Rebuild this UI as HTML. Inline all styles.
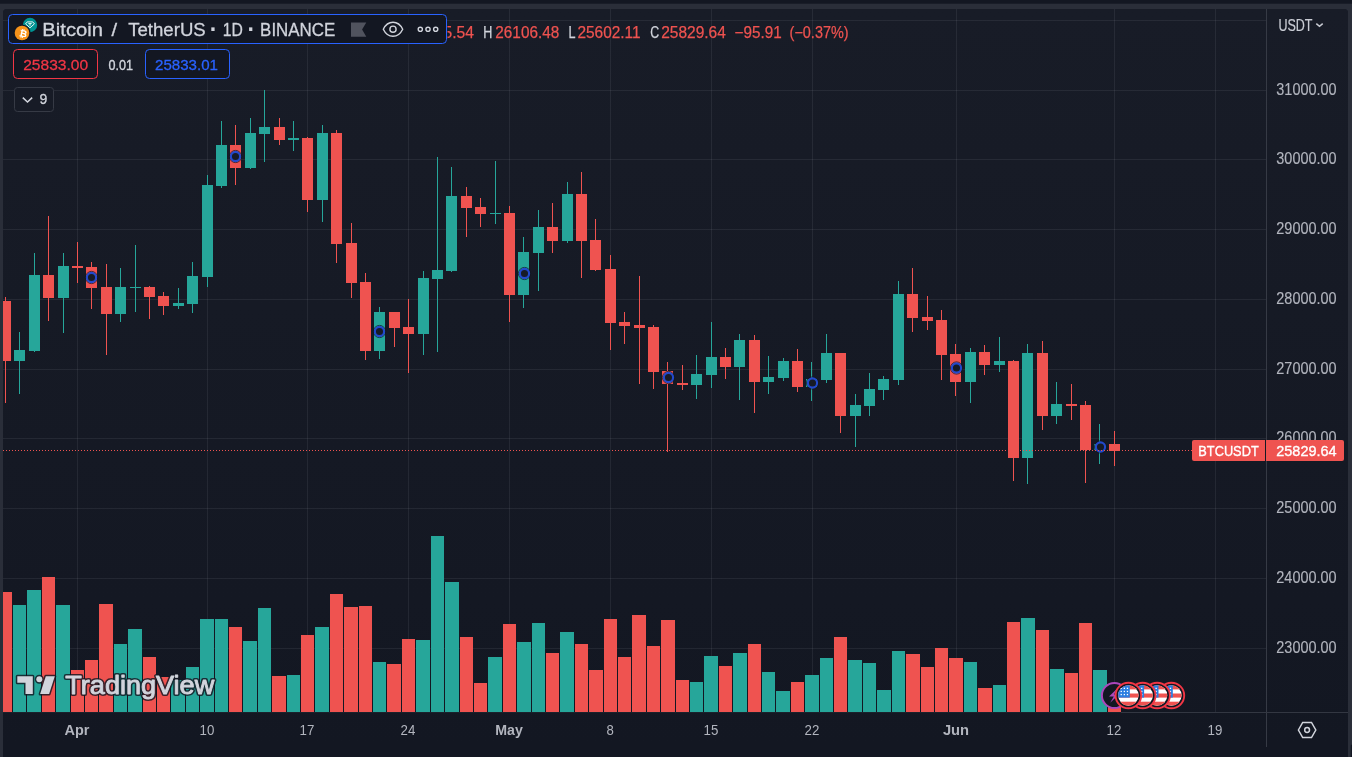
<!DOCTYPE html>
<html lang="en"><head><meta charset="utf-8"><title>BTCUSDT chart</title>
<style>
html,body{margin:0;padding:0;background:#2a2e39;overflow:hidden}
body{width:1352px;height:757px;position:relative}
svg{position:absolute;left:0;top:0;display:block}
text{font-family:'Liberation Sans', sans-serif;white-space:pre}
.c{shape-rendering:crispEdges}
</style></head><body>
<svg width="1352" height="757" viewBox="0 0 1352 757">
<defs>
<linearGradient id="bg" x1="0" y1="0" x2="0" y2="1"><stop offset="0" stop-color="#181c27"/><stop offset="1" stop-color="#131722"/></linearGradient>
<clipPath id="pane"><rect x="3" y="9" width="1263" height="703"/></clipPath>
<clipPath id="flag"><circle cx="0" cy="0" r="10.2"/></clipPath>
</defs>
<rect x="0" y="0" width="1352" height="757" fill="#2a2e39"/>
<rect x="0" y="0" width="1352" height="3.7" fill="#131722"/>
<path d="M3 757V13a4 4 0 0 1 4-4H1344a4 4 0 0 1 4 4V757z" fill="#131722"/>
<path d="M3 747V13a4 4 0 0 1 4-4H1344a4 4 0 0 1 4 4V747z" fill="url(#bg)"/>
<g class="c" fill="rgba(240,243,250,0.07)">
<rect x="77" y="9" width="1" height="703"/>
<rect x="207" y="9" width="1" height="703"/>
<rect x="307" y="9" width="1" height="703"/>
<rect x="408" y="9" width="1" height="703"/>
<rect x="509" y="9" width="1" height="703"/>
<rect x="610" y="9" width="1" height="703"/>
<rect x="711" y="9" width="1" height="703"/>
<rect x="812" y="9" width="1" height="703"/>
<rect x="956" y="9" width="1" height="703"/>
<rect x="1114" y="9" width="1" height="703"/>
<rect x="1215" y="9" width="1" height="703"/>
<rect x="3" y="20" width="1263" height="1"/>
<rect x="3" y="90" width="1263" height="1"/>
<rect x="3" y="159" width="1263" height="1"/>
<rect x="3" y="229" width="1263" height="1"/>
<rect x="3" y="299" width="1263" height="1"/>
<rect x="3" y="369" width="1263" height="1"/>
<rect x="3" y="438" width="1263" height="1"/>
<rect x="3" y="508" width="1263" height="1"/>
<rect x="3" y="578" width="1263" height="1"/>
<rect x="3" y="648" width="1263" height="1"/>
</g>
<g class="c" clip-path="url(#pane)">
<rect x="-1" y="592" width="13" height="120" fill="#ef5350"/>
<rect x="13" y="605" width="13" height="107" fill="#26a69a"/>
<rect x="27" y="590" width="14" height="122" fill="#26a69a"/>
<rect x="42" y="577" width="13" height="135" fill="#ef5350"/>
<rect x="56" y="605" width="14" height="107" fill="#26a69a"/>
<rect x="71" y="670" width="13" height="42" fill="#ef5350"/>
<rect x="85" y="660" width="13" height="52" fill="#ef5350"/>
<rect x="99" y="604" width="14" height="108" fill="#ef5350"/>
<rect x="114" y="644" width="13" height="68" fill="#26a69a"/>
<rect x="128" y="629" width="14" height="83" fill="#26a69a"/>
<rect x="143" y="657" width="13" height="55" fill="#ef5350"/>
<rect x="157" y="677" width="13" height="35" fill="#ef5350"/>
<rect x="171" y="680" width="14" height="32" fill="#26a69a"/>
<rect x="186" y="667" width="13" height="45" fill="#26a69a"/>
<rect x="200" y="619" width="14" height="93" fill="#26a69a"/>
<rect x="215" y="619" width="13" height="93" fill="#26a69a"/>
<rect x="229" y="627" width="13" height="85" fill="#ef5350"/>
<rect x="243" y="641" width="14" height="71" fill="#26a69a"/>
<rect x="258" y="608" width="13" height="104" fill="#26a69a"/>
<rect x="272" y="676" width="14" height="36" fill="#ef5350"/>
<rect x="287" y="675" width="13" height="37" fill="#26a69a"/>
<rect x="301" y="635" width="13" height="77" fill="#ef5350"/>
<rect x="315" y="627" width="14" height="85" fill="#26a69a"/>
<rect x="330" y="594" width="13" height="118" fill="#ef5350"/>
<rect x="344" y="607" width="14" height="105" fill="#ef5350"/>
<rect x="359" y="606" width="13" height="106" fill="#ef5350"/>
<rect x="373" y="662" width="13" height="50" fill="#26a69a"/>
<rect x="387" y="664" width="14" height="48" fill="#ef5350"/>
<rect x="402" y="639" width="13" height="73" fill="#ef5350"/>
<rect x="416" y="640" width="14" height="72" fill="#26a69a"/>
<rect x="431" y="536" width="13" height="176" fill="#26a69a"/>
<rect x="445" y="582" width="14" height="130" fill="#26a69a"/>
<rect x="460" y="637" width="13" height="75" fill="#ef5350"/>
<rect x="474" y="683" width="13" height="29" fill="#ef5350"/>
<rect x="488" y="657" width="14" height="55" fill="#26a69a"/>
<rect x="503" y="624" width="13" height="88" fill="#ef5350"/>
<rect x="517" y="642" width="14" height="70" fill="#26a69a"/>
<rect x="532" y="623" width="13" height="89" fill="#26a69a"/>
<rect x="546" y="653" width="13" height="59" fill="#ef5350"/>
<rect x="560" y="632" width="14" height="80" fill="#26a69a"/>
<rect x="575" y="644" width="13" height="68" fill="#ef5350"/>
<rect x="589" y="670" width="14" height="42" fill="#ef5350"/>
<rect x="604" y="619" width="13" height="93" fill="#ef5350"/>
<rect x="618" y="657" width="13" height="55" fill="#ef5350"/>
<rect x="632" y="615" width="14" height="97" fill="#ef5350"/>
<rect x="647" y="646" width="13" height="66" fill="#ef5350"/>
<rect x="661" y="620" width="14" height="92" fill="#ef5350"/>
<rect x="676" y="680" width="13" height="32" fill="#ef5350"/>
<rect x="690" y="682" width="13" height="30" fill="#26a69a"/>
<rect x="704" y="656" width="14" height="56" fill="#26a69a"/>
<rect x="719" y="666" width="13" height="46" fill="#ef5350"/>
<rect x="733" y="653" width="14" height="59" fill="#26a69a"/>
<rect x="748" y="644" width="13" height="68" fill="#ef5350"/>
<rect x="762" y="672" width="13" height="40" fill="#26a69a"/>
<rect x="776" y="691" width="14" height="21" fill="#26a69a"/>
<rect x="791" y="682" width="13" height="30" fill="#ef5350"/>
<rect x="805" y="675" width="14" height="37" fill="#26a69a"/>
<rect x="820" y="658" width="13" height="54" fill="#26a69a"/>
<rect x="834" y="637" width="13" height="75" fill="#ef5350"/>
<rect x="848" y="660" width="14" height="52" fill="#26a69a"/>
<rect x="863" y="663" width="13" height="49" fill="#26a69a"/>
<rect x="877" y="690" width="14" height="22" fill="#26a69a"/>
<rect x="892" y="651" width="13" height="61" fill="#26a69a"/>
<rect x="906" y="654" width="14" height="58" fill="#ef5350"/>
<rect x="921" y="667" width="13" height="45" fill="#ef5350"/>
<rect x="935" y="648" width="13" height="64" fill="#ef5350"/>
<rect x="949" y="658" width="14" height="54" fill="#ef5350"/>
<rect x="964" y="662" width="13" height="50" fill="#26a69a"/>
<rect x="978" y="688" width="14" height="24" fill="#ef5350"/>
<rect x="993" y="685" width="13" height="27" fill="#26a69a"/>
<rect x="1007" y="622" width="13" height="90" fill="#ef5350"/>
<rect x="1021" y="618" width="14" height="94" fill="#26a69a"/>
<rect x="1036" y="630" width="13" height="82" fill="#ef5350"/>
<rect x="1050" y="669" width="14" height="43" fill="#26a69a"/>
<rect x="1065" y="673" width="13" height="39" fill="#ef5350"/>
<rect x="1079" y="623" width="13" height="89" fill="#ef5350"/>
<rect x="1093" y="670" width="14" height="42" fill="#26a69a"/>
<rect x="1108" y="684" width="13" height="28" fill="#ef5350"/>
</g>
<g class="c" clip-path="url(#pane)">
<rect x="5" y="297" width="1" height="106" fill="#ef5350"/>
<rect x="0" y="301" width="11" height="60" fill="#ef5350"/>
<rect x="19" y="332" width="1" height="62" fill="#26a69a"/>
<rect x="14" y="350" width="11" height="11" fill="#26a69a"/>
<rect x="34" y="253" width="1" height="99" fill="#26a69a"/>
<rect x="29" y="275" width="11" height="76" fill="#26a69a"/>
<rect x="48" y="216" width="1" height="105" fill="#ef5350"/>
<rect x="43" y="275" width="11" height="23" fill="#ef5350"/>
<rect x="63" y="253" width="1" height="80" fill="#26a69a"/>
<rect x="58" y="266" width="11" height="32" fill="#26a69a"/>
<rect x="77" y="242" width="1" height="41" fill="#ef5350"/>
<rect x="72" y="266" width="11" height="2" fill="#ef5350"/>
<rect x="91" y="262" width="1" height="47" fill="#ef5350"/>
<rect x="86" y="267" width="11" height="21" fill="#ef5350"/>
<rect x="106" y="264" width="1" height="91" fill="#ef5350"/>
<rect x="101" y="287" width="11" height="27" fill="#ef5350"/>
<rect x="120" y="268" width="1" height="54" fill="#26a69a"/>
<rect x="115" y="287" width="11" height="27" fill="#26a69a"/>
<rect x="135" y="245" width="1" height="67" fill="#26a69a"/>
<rect x="130" y="287" width="11" height="1" fill="#26a69a"/>
<rect x="149" y="286" width="1" height="33" fill="#ef5350"/>
<rect x="144" y="287" width="11" height="10" fill="#ef5350"/>
<rect x="163" y="292" width="1" height="23" fill="#ef5350"/>
<rect x="158" y="296" width="11" height="10" fill="#ef5350"/>
<rect x="178" y="288" width="1" height="21" fill="#26a69a"/>
<rect x="173" y="303" width="11" height="3" fill="#26a69a"/>
<rect x="192" y="262" width="1" height="51" fill="#26a69a"/>
<rect x="187" y="276" width="11" height="28" fill="#26a69a"/>
<rect x="207" y="175" width="1" height="112" fill="#26a69a"/>
<rect x="202" y="185" width="11" height="92" fill="#26a69a"/>
<rect x="221" y="121" width="1" height="67" fill="#26a69a"/>
<rect x="216" y="145" width="11" height="41" fill="#26a69a"/>
<rect x="235" y="125" width="1" height="60" fill="#ef5350"/>
<rect x="230" y="145" width="11" height="23" fill="#ef5350"/>
<rect x="250" y="118" width="1" height="51" fill="#26a69a"/>
<rect x="245" y="133" width="11" height="35" fill="#26a69a"/>
<rect x="264" y="90" width="1" height="72" fill="#26a69a"/>
<rect x="259" y="127" width="11" height="7" fill="#26a69a"/>
<rect x="279" y="118" width="1" height="27" fill="#ef5350"/>
<rect x="274" y="127" width="11" height="13" fill="#ef5350"/>
<rect x="293" y="121" width="1" height="30" fill="#26a69a"/>
<rect x="288" y="138" width="11" height="2" fill="#26a69a"/>
<rect x="307" y="137" width="1" height="75" fill="#ef5350"/>
<rect x="302" y="138" width="11" height="62" fill="#ef5350"/>
<rect x="322" y="125" width="1" height="97" fill="#26a69a"/>
<rect x="317" y="133" width="11" height="67" fill="#26a69a"/>
<rect x="336" y="130" width="1" height="133" fill="#ef5350"/>
<rect x="331" y="133" width="11" height="111" fill="#ef5350"/>
<rect x="351" y="223" width="1" height="75" fill="#ef5350"/>
<rect x="346" y="243" width="11" height="40" fill="#ef5350"/>
<rect x="365" y="273" width="1" height="87" fill="#ef5350"/>
<rect x="360" y="282" width="11" height="69" fill="#ef5350"/>
<rect x="379" y="307" width="1" height="52" fill="#26a69a"/>
<rect x="374" y="312" width="11" height="39" fill="#26a69a"/>
<rect x="394" y="312" width="1" height="35" fill="#ef5350"/>
<rect x="389" y="312" width="11" height="16" fill="#ef5350"/>
<rect x="408" y="299" width="1" height="74" fill="#ef5350"/>
<rect x="403" y="327" width="11" height="7" fill="#ef5350"/>
<rect x="423" y="271" width="1" height="84" fill="#26a69a"/>
<rect x="418" y="278" width="11" height="56" fill="#26a69a"/>
<rect x="437" y="157" width="1" height="195" fill="#26a69a"/>
<rect x="432" y="270" width="11" height="9" fill="#26a69a"/>
<rect x="451" y="167" width="1" height="105" fill="#26a69a"/>
<rect x="446" y="196" width="11" height="75" fill="#26a69a"/>
<rect x="466" y="187" width="1" height="50" fill="#ef5350"/>
<rect x="461" y="196" width="11" height="12" fill="#ef5350"/>
<rect x="480" y="198" width="1" height="29" fill="#ef5350"/>
<rect x="475" y="207" width="11" height="7" fill="#ef5350"/>
<rect x="495" y="161" width="1" height="63" fill="#26a69a"/>
<rect x="490" y="213" width="11" height="1" fill="#26a69a"/>
<rect x="509" y="206" width="1" height="116" fill="#ef5350"/>
<rect x="504" y="213" width="11" height="82" fill="#ef5350"/>
<rect x="523" y="237" width="1" height="71" fill="#26a69a"/>
<rect x="518" y="252" width="11" height="43" fill="#26a69a"/>
<rect x="538" y="210" width="1" height="81" fill="#26a69a"/>
<rect x="533" y="227" width="11" height="26" fill="#26a69a"/>
<rect x="552" y="203" width="1" height="50" fill="#ef5350"/>
<rect x="547" y="227" width="11" height="14" fill="#ef5350"/>
<rect x="567" y="182" width="1" height="61" fill="#26a69a"/>
<rect x="562" y="194" width="11" height="47" fill="#26a69a"/>
<rect x="581" y="172" width="1" height="106" fill="#ef5350"/>
<rect x="576" y="194" width="11" height="47" fill="#ef5350"/>
<rect x="595" y="219" width="1" height="52" fill="#ef5350"/>
<rect x="590" y="240" width="11" height="30" fill="#ef5350"/>
<rect x="610" y="255" width="1" height="95" fill="#ef5350"/>
<rect x="605" y="269" width="11" height="54" fill="#ef5350"/>
<rect x="624" y="312" width="1" height="32" fill="#ef5350"/>
<rect x="619" y="322" width="11" height="4" fill="#ef5350"/>
<rect x="639" y="276" width="1" height="108" fill="#ef5350"/>
<rect x="634" y="325" width="11" height="3" fill="#ef5350"/>
<rect x="653" y="325" width="1" height="64" fill="#ef5350"/>
<rect x="648" y="327" width="11" height="45" fill="#ef5350"/>
<rect x="667" y="362" width="1" height="90" fill="#ef5350"/>
<rect x="662" y="371" width="11" height="13" fill="#ef5350"/>
<rect x="682" y="365" width="1" height="25" fill="#ef5350"/>
<rect x="677" y="383" width="11" height="2" fill="#ef5350"/>
<rect x="696" y="355" width="1" height="44" fill="#26a69a"/>
<rect x="691" y="374" width="11" height="11" fill="#26a69a"/>
<rect x="711" y="322" width="1" height="66" fill="#26a69a"/>
<rect x="706" y="357" width="11" height="18" fill="#26a69a"/>
<rect x="725" y="348" width="1" height="31" fill="#ef5350"/>
<rect x="720" y="357" width="11" height="10" fill="#ef5350"/>
<rect x="739" y="334" width="1" height="66" fill="#26a69a"/>
<rect x="734" y="340" width="11" height="27" fill="#26a69a"/>
<rect x="754" y="335" width="1" height="78" fill="#ef5350"/>
<rect x="749" y="340" width="11" height="42" fill="#ef5350"/>
<rect x="768" y="356" width="1" height="38" fill="#26a69a"/>
<rect x="763" y="377" width="11" height="5" fill="#26a69a"/>
<rect x="783" y="358" width="1" height="23" fill="#26a69a"/>
<rect x="778" y="361" width="11" height="17" fill="#26a69a"/>
<rect x="797" y="349" width="1" height="43" fill="#ef5350"/>
<rect x="792" y="361" width="11" height="26" fill="#ef5350"/>
<rect x="811" y="362" width="1" height="39" fill="#26a69a"/>
<rect x="806" y="379" width="11" height="8" fill="#26a69a"/>
<rect x="826" y="334" width="1" height="49" fill="#26a69a"/>
<rect x="821" y="353" width="11" height="27" fill="#26a69a"/>
<rect x="840" y="353" width="1" height="80" fill="#ef5350"/>
<rect x="835" y="353" width="11" height="63" fill="#ef5350"/>
<rect x="855" y="394" width="1" height="53" fill="#26a69a"/>
<rect x="850" y="405" width="11" height="11" fill="#26a69a"/>
<rect x="869" y="373" width="1" height="43" fill="#26a69a"/>
<rect x="864" y="389" width="11" height="17" fill="#26a69a"/>
<rect x="883" y="376" width="1" height="24" fill="#26a69a"/>
<rect x="878" y="379" width="11" height="11" fill="#26a69a"/>
<rect x="898" y="281" width="1" height="104" fill="#26a69a"/>
<rect x="893" y="294" width="11" height="86" fill="#26a69a"/>
<rect x="912" y="268" width="1" height="64" fill="#ef5350"/>
<rect x="907" y="294" width="11" height="24" fill="#ef5350"/>
<rect x="927" y="296" width="1" height="34" fill="#ef5350"/>
<rect x="922" y="317" width="11" height="4" fill="#ef5350"/>
<rect x="941" y="310" width="1" height="70" fill="#ef5350"/>
<rect x="936" y="320" width="11" height="35" fill="#ef5350"/>
<rect x="955" y="344" width="1" height="52" fill="#ef5350"/>
<rect x="950" y="354" width="11" height="28" fill="#ef5350"/>
<rect x="970" y="348" width="1" height="55" fill="#26a69a"/>
<rect x="965" y="352" width="11" height="30" fill="#26a69a"/>
<rect x="984" y="345" width="1" height="30" fill="#ef5350"/>
<rect x="979" y="352" width="11" height="13" fill="#ef5350"/>
<rect x="999" y="337" width="1" height="35" fill="#26a69a"/>
<rect x="994" y="361" width="11" height="4" fill="#26a69a"/>
<rect x="1013" y="360" width="1" height="121" fill="#ef5350"/>
<rect x="1008" y="361" width="11" height="97" fill="#ef5350"/>
<rect x="1027" y="344" width="1" height="140" fill="#26a69a"/>
<rect x="1022" y="353" width="11" height="105" fill="#26a69a"/>
<rect x="1042" y="341" width="1" height="89" fill="#ef5350"/>
<rect x="1037" y="353" width="11" height="63" fill="#ef5350"/>
<rect x="1056" y="382" width="1" height="42" fill="#26a69a"/>
<rect x="1051" y="404" width="11" height="12" fill="#26a69a"/>
<rect x="1071" y="384" width="1" height="36" fill="#ef5350"/>
<rect x="1066" y="404" width="11" height="2" fill="#ef5350"/>
<rect x="1085" y="401" width="1" height="82" fill="#ef5350"/>
<rect x="1080" y="405" width="11" height="45" fill="#ef5350"/>
<rect x="1099" y="424" width="1" height="40" fill="#26a69a"/>
<rect x="1094" y="444" width="11" height="6" fill="#26a69a"/>
<rect x="1114" y="431" width="1" height="35" fill="#ef5350"/>
<rect x="1109" y="444" width="11" height="7" fill="#ef5350"/>
</g>
<g fill="#171b26" stroke="#2249cc" stroke-width="2.1">
<circle cx="91.5" cy="277.5" r="6.1" fill="none" stroke="#131722" stroke-width="1" stroke-opacity="0.75"/>
<circle cx="91.5" cy="277.5" r="4.6"/>
<circle cx="235.5" cy="156.5" r="6.1" fill="none" stroke="#131722" stroke-width="1" stroke-opacity="0.75"/>
<circle cx="235.5" cy="156.5" r="4.6"/>
<circle cx="379.5" cy="331.5" r="6.1" fill="none" stroke="#131722" stroke-width="1" stroke-opacity="0.75"/>
<circle cx="379.5" cy="331.5" r="4.6"/>
<circle cx="524.5" cy="273.5" r="6.1" fill="none" stroke="#131722" stroke-width="1" stroke-opacity="0.75"/>
<circle cx="524.5" cy="273.5" r="4.6"/>
<circle cx="668.5" cy="377.5" r="6.1" fill="none" stroke="#131722" stroke-width="1" stroke-opacity="0.75"/>
<circle cx="668.5" cy="377.5" r="4.6"/>
<circle cx="812.5" cy="383.0" r="6.1" fill="none" stroke="#131722" stroke-width="1" stroke-opacity="0.75"/>
<circle cx="812.5" cy="383.0" r="4.6"/>
<circle cx="956.5" cy="368.0" r="6.1" fill="none" stroke="#131722" stroke-width="1" stroke-opacity="0.75"/>
<circle cx="956.5" cy="368.0" r="4.6"/>
<circle cx="1100.5" cy="447.0" r="6.1" fill="none" stroke="#131722" stroke-width="1" stroke-opacity="0.75"/>
<circle cx="1100.5" cy="447.0" r="4.6"/>
</g>
<g class="c" fill="#ef5350">
<path d="M3 450h1v1h-1zM6 450h1v1h-1zM9 450h1v1h-1zM12 450h1v1h-1zM15 450h1v1h-1zM18 450h1v1h-1zM21 450h1v1h-1zM24 450h1v1h-1zM27 450h1v1h-1zM30 450h1v1h-1zM33 450h1v1h-1zM36 450h1v1h-1zM39 450h1v1h-1zM42 450h1v1h-1zM45 450h1v1h-1zM48 450h1v1h-1zM51 450h1v1h-1zM54 450h1v1h-1zM57 450h1v1h-1zM60 450h1v1h-1zM63 450h1v1h-1zM66 450h1v1h-1zM69 450h1v1h-1zM72 450h1v1h-1zM75 450h1v1h-1zM78 450h1v1h-1zM81 450h1v1h-1zM84 450h1v1h-1zM87 450h1v1h-1zM90 450h1v1h-1zM93 450h1v1h-1zM96 450h1v1h-1zM99 450h1v1h-1zM102 450h1v1h-1zM105 450h1v1h-1zM108 450h1v1h-1zM111 450h1v1h-1zM114 450h1v1h-1zM117 450h1v1h-1zM120 450h1v1h-1zM123 450h1v1h-1zM126 450h1v1h-1zM129 450h1v1h-1zM132 450h1v1h-1zM135 450h1v1h-1zM138 450h1v1h-1zM141 450h1v1h-1zM144 450h1v1h-1zM147 450h1v1h-1zM150 450h1v1h-1zM153 450h1v1h-1zM156 450h1v1h-1zM159 450h1v1h-1zM162 450h1v1h-1zM165 450h1v1h-1zM168 450h1v1h-1zM171 450h1v1h-1zM174 450h1v1h-1zM177 450h1v1h-1zM180 450h1v1h-1zM183 450h1v1h-1zM186 450h1v1h-1zM189 450h1v1h-1zM192 450h1v1h-1zM195 450h1v1h-1zM198 450h1v1h-1zM201 450h1v1h-1zM204 450h1v1h-1zM207 450h1v1h-1zM210 450h1v1h-1zM213 450h1v1h-1zM216 450h1v1h-1zM219 450h1v1h-1zM222 450h1v1h-1zM225 450h1v1h-1zM228 450h1v1h-1zM231 450h1v1h-1zM234 450h1v1h-1zM237 450h1v1h-1zM240 450h1v1h-1zM243 450h1v1h-1zM246 450h1v1h-1zM249 450h1v1h-1zM252 450h1v1h-1zM255 450h1v1h-1zM258 450h1v1h-1zM261 450h1v1h-1zM264 450h1v1h-1zM267 450h1v1h-1zM270 450h1v1h-1zM273 450h1v1h-1zM276 450h1v1h-1zM279 450h1v1h-1zM282 450h1v1h-1zM285 450h1v1h-1zM288 450h1v1h-1zM291 450h1v1h-1zM294 450h1v1h-1zM297 450h1v1h-1zM300 450h1v1h-1zM303 450h1v1h-1zM306 450h1v1h-1zM309 450h1v1h-1zM312 450h1v1h-1zM315 450h1v1h-1zM318 450h1v1h-1zM321 450h1v1h-1zM324 450h1v1h-1zM327 450h1v1h-1zM330 450h1v1h-1zM333 450h1v1h-1zM336 450h1v1h-1zM339 450h1v1h-1zM342 450h1v1h-1zM345 450h1v1h-1zM348 450h1v1h-1zM351 450h1v1h-1zM354 450h1v1h-1zM357 450h1v1h-1zM360 450h1v1h-1zM363 450h1v1h-1zM366 450h1v1h-1zM369 450h1v1h-1zM372 450h1v1h-1zM375 450h1v1h-1zM378 450h1v1h-1zM381 450h1v1h-1zM384 450h1v1h-1zM387 450h1v1h-1zM390 450h1v1h-1zM393 450h1v1h-1zM396 450h1v1h-1zM399 450h1v1h-1zM402 450h1v1h-1zM405 450h1v1h-1zM408 450h1v1h-1zM411 450h1v1h-1zM414 450h1v1h-1zM417 450h1v1h-1zM420 450h1v1h-1zM423 450h1v1h-1zM426 450h1v1h-1zM429 450h1v1h-1zM432 450h1v1h-1zM435 450h1v1h-1zM438 450h1v1h-1zM441 450h1v1h-1zM444 450h1v1h-1zM447 450h1v1h-1zM450 450h1v1h-1zM453 450h1v1h-1zM456 450h1v1h-1zM459 450h1v1h-1zM462 450h1v1h-1zM465 450h1v1h-1zM468 450h1v1h-1zM471 450h1v1h-1zM474 450h1v1h-1zM477 450h1v1h-1zM480 450h1v1h-1zM483 450h1v1h-1zM486 450h1v1h-1zM489 450h1v1h-1zM492 450h1v1h-1zM495 450h1v1h-1zM498 450h1v1h-1zM501 450h1v1h-1zM504 450h1v1h-1zM507 450h1v1h-1zM510 450h1v1h-1zM513 450h1v1h-1zM516 450h1v1h-1zM519 450h1v1h-1zM522 450h1v1h-1zM525 450h1v1h-1zM528 450h1v1h-1zM531 450h1v1h-1zM534 450h1v1h-1zM537 450h1v1h-1zM540 450h1v1h-1zM543 450h1v1h-1zM546 450h1v1h-1zM549 450h1v1h-1zM552 450h1v1h-1zM555 450h1v1h-1zM558 450h1v1h-1zM561 450h1v1h-1zM564 450h1v1h-1zM567 450h1v1h-1zM570 450h1v1h-1zM573 450h1v1h-1zM576 450h1v1h-1zM579 450h1v1h-1zM582 450h1v1h-1zM585 450h1v1h-1zM588 450h1v1h-1zM591 450h1v1h-1zM594 450h1v1h-1zM597 450h1v1h-1zM600 450h1v1h-1zM603 450h1v1h-1zM606 450h1v1h-1zM609 450h1v1h-1zM612 450h1v1h-1zM615 450h1v1h-1zM618 450h1v1h-1zM621 450h1v1h-1zM624 450h1v1h-1zM627 450h1v1h-1zM630 450h1v1h-1zM633 450h1v1h-1zM636 450h1v1h-1zM639 450h1v1h-1zM642 450h1v1h-1zM645 450h1v1h-1zM648 450h1v1h-1zM651 450h1v1h-1zM654 450h1v1h-1zM657 450h1v1h-1zM660 450h1v1h-1zM663 450h1v1h-1zM666 450h1v1h-1zM669 450h1v1h-1zM672 450h1v1h-1zM675 450h1v1h-1zM678 450h1v1h-1zM681 450h1v1h-1zM684 450h1v1h-1zM687 450h1v1h-1zM690 450h1v1h-1zM693 450h1v1h-1zM696 450h1v1h-1zM699 450h1v1h-1zM702 450h1v1h-1zM705 450h1v1h-1zM708 450h1v1h-1zM711 450h1v1h-1zM714 450h1v1h-1zM717 450h1v1h-1zM720 450h1v1h-1zM723 450h1v1h-1zM726 450h1v1h-1zM729 450h1v1h-1zM732 450h1v1h-1zM735 450h1v1h-1zM738 450h1v1h-1zM741 450h1v1h-1zM744 450h1v1h-1zM747 450h1v1h-1zM750 450h1v1h-1zM753 450h1v1h-1zM756 450h1v1h-1zM759 450h1v1h-1zM762 450h1v1h-1zM765 450h1v1h-1zM768 450h1v1h-1zM771 450h1v1h-1zM774 450h1v1h-1zM777 450h1v1h-1zM780 450h1v1h-1zM783 450h1v1h-1zM786 450h1v1h-1zM789 450h1v1h-1zM792 450h1v1h-1zM795 450h1v1h-1zM798 450h1v1h-1zM801 450h1v1h-1zM804 450h1v1h-1zM807 450h1v1h-1zM810 450h1v1h-1zM813 450h1v1h-1zM816 450h1v1h-1zM819 450h1v1h-1zM822 450h1v1h-1zM825 450h1v1h-1zM828 450h1v1h-1zM831 450h1v1h-1zM834 450h1v1h-1zM837 450h1v1h-1zM840 450h1v1h-1zM843 450h1v1h-1zM846 450h1v1h-1zM849 450h1v1h-1zM852 450h1v1h-1zM855 450h1v1h-1zM858 450h1v1h-1zM861 450h1v1h-1zM864 450h1v1h-1zM867 450h1v1h-1zM870 450h1v1h-1zM873 450h1v1h-1zM876 450h1v1h-1zM879 450h1v1h-1zM882 450h1v1h-1zM885 450h1v1h-1zM888 450h1v1h-1zM891 450h1v1h-1zM894 450h1v1h-1zM897 450h1v1h-1zM900 450h1v1h-1zM903 450h1v1h-1zM906 450h1v1h-1zM909 450h1v1h-1zM912 450h1v1h-1zM915 450h1v1h-1zM918 450h1v1h-1zM921 450h1v1h-1zM924 450h1v1h-1zM927 450h1v1h-1zM930 450h1v1h-1zM933 450h1v1h-1zM936 450h1v1h-1zM939 450h1v1h-1zM942 450h1v1h-1zM945 450h1v1h-1zM948 450h1v1h-1zM951 450h1v1h-1zM954 450h1v1h-1zM957 450h1v1h-1zM960 450h1v1h-1zM963 450h1v1h-1zM966 450h1v1h-1zM969 450h1v1h-1zM972 450h1v1h-1zM975 450h1v1h-1zM978 450h1v1h-1zM981 450h1v1h-1zM984 450h1v1h-1zM987 450h1v1h-1zM990 450h1v1h-1zM993 450h1v1h-1zM996 450h1v1h-1zM999 450h1v1h-1zM1002 450h1v1h-1zM1005 450h1v1h-1zM1008 450h1v1h-1zM1011 450h1v1h-1zM1014 450h1v1h-1zM1017 450h1v1h-1zM1020 450h1v1h-1zM1023 450h1v1h-1zM1026 450h1v1h-1zM1029 450h1v1h-1zM1032 450h1v1h-1zM1035 450h1v1h-1zM1038 450h1v1h-1zM1041 450h1v1h-1zM1044 450h1v1h-1zM1047 450h1v1h-1zM1050 450h1v1h-1zM1053 450h1v1h-1zM1056 450h1v1h-1zM1059 450h1v1h-1zM1062 450h1v1h-1zM1065 450h1v1h-1zM1068 450h1v1h-1zM1071 450h1v1h-1zM1074 450h1v1h-1zM1077 450h1v1h-1zM1080 450h1v1h-1zM1083 450h1v1h-1zM1086 450h1v1h-1zM1089 450h1v1h-1zM1092 450h1v1h-1zM1095 450h1v1h-1zM1098 450h1v1h-1zM1101 450h1v1h-1zM1104 450h1v1h-1zM1107 450h1v1h-1zM1110 450h1v1h-1zM1113 450h1v1h-1zM1116 450h1v1h-1zM1119 450h1v1h-1zM1122 450h1v1h-1zM1125 450h1v1h-1zM1128 450h1v1h-1zM1131 450h1v1h-1zM1134 450h1v1h-1zM1137 450h1v1h-1zM1140 450h1v1h-1zM1143 450h1v1h-1zM1146 450h1v1h-1zM1149 450h1v1h-1zM1152 450h1v1h-1zM1155 450h1v1h-1zM1158 450h1v1h-1zM1161 450h1v1h-1zM1164 450h1v1h-1zM1167 450h1v1h-1zM1170 450h1v1h-1zM1173 450h1v1h-1zM1176 450h1v1h-1zM1179 450h1v1h-1zM1182 450h1v1h-1zM1185 450h1v1h-1zM1188 450h1v1h-1zM1191 450h1v1h-1z"/>
</g>
<g class="c" fill="#363a45">
<rect x="1266" y="9" width="1" height="738"/>
<rect x="3" y="712" width="1118" height="1" fill="#1b212b"/>
<rect x="1121" y="712" width="227" height="1" fill="#333742"/>
</g>
<text x="1276.3" y="94.9" font-size="15.70" fill="#b2b5be" textLength="60.3" lengthAdjust="spacingAndGlyphs" stroke="#b2b5be" stroke-width="0.15">31000.00</text>
<text x="1276.3" y="163.9" font-size="15.70" fill="#b2b5be" textLength="60.3" lengthAdjust="spacingAndGlyphs" stroke="#b2b5be" stroke-width="0.15">30000.00</text>
<text x="1276.3" y="233.9" font-size="15.70" fill="#b2b5be" textLength="60.3" lengthAdjust="spacingAndGlyphs" stroke="#b2b5be" stroke-width="0.15">29000.00</text>
<text x="1276.3" y="303.9" font-size="15.70" fill="#b2b5be" textLength="60.3" lengthAdjust="spacingAndGlyphs" stroke="#b2b5be" stroke-width="0.15">28000.00</text>
<text x="1276.3" y="373.9" font-size="15.70" fill="#b2b5be" textLength="60.3" lengthAdjust="spacingAndGlyphs" stroke="#b2b5be" stroke-width="0.15">27000.00</text>
<text x="1276.3" y="442.9" font-size="15.70" fill="#b2b5be" textLength="60.3" lengthAdjust="spacingAndGlyphs" stroke="#b2b5be" stroke-width="0.15">26000.00</text>
<text x="1276.3" y="512.9" font-size="15.70" fill="#b2b5be" textLength="60.3" lengthAdjust="spacingAndGlyphs" stroke="#b2b5be" stroke-width="0.15">25000.00</text>
<text x="1276.3" y="582.9" font-size="15.70" fill="#b2b5be" textLength="60.3" lengthAdjust="spacingAndGlyphs" stroke="#b2b5be" stroke-width="0.15">24000.00</text>
<text x="1276.3" y="652.9" font-size="15.70" fill="#b2b5be" textLength="60.3" lengthAdjust="spacingAndGlyphs" stroke="#b2b5be" stroke-width="0.15">23000.00</text>
<text x="1278.4" y="30.7" font-size="15.90" fill="#c9ccd4" textLength="34.1" lengthAdjust="spacingAndGlyphs" stroke="#c9ccd4" stroke-width="0.20">USDT</text>
<path d="M1316.3 23.6l3.200 2.700 3.200-2.700" fill="none" stroke="#c9ccd4" stroke-width="1.5"/>
<path d="M1192 442a2 2 0 0 1 2-2H1265V461H1194a2 2 0 0 1-2-2z" fill="#ef5350"/>
<path d="M1266 440H1342a2 2 0 0 1 2 2V459a2 2 0 0 1-2 2H1266z" fill="#ef5350"/>
<text x="1198.3" y="455.9" font-size="14.60" fill="#ffffff" textLength="60.4" lengthAdjust="spacingAndGlyphs" stroke="#ffffff" stroke-width="0.35">BTCUSDT</text>
<text x="1276.3" y="455.9" font-size="15.00" fill="#ffffff" textLength="60.3" lengthAdjust="spacingAndGlyphs" stroke="#ffffff" stroke-width="0.35">25829.64</text>
<text x="64.5" y="734.6" font-size="14.80" fill="#b2b5be" font-weight="bold" textLength="24.9" lengthAdjust="spacingAndGlyphs">Apr</text>
<text x="199.6" y="734.6" font-size="14.80" fill="#b2b5be" textLength="14.8" lengthAdjust="spacingAndGlyphs">10</text>
<text x="299.6" y="734.6" font-size="14.80" fill="#b2b5be" textLength="14.8" lengthAdjust="spacingAndGlyphs">17</text>
<text x="400.6" y="734.6" font-size="14.80" fill="#b2b5be" textLength="14.8" lengthAdjust="spacingAndGlyphs">24</text>
<text x="495.2" y="734.6" font-size="14.80" fill="#b2b5be" font-weight="bold" textLength="27.6" lengthAdjust="spacingAndGlyphs">May</text>
<text x="606.4" y="734.6" font-size="14.80" fill="#b2b5be" textLength="7.3" lengthAdjust="spacingAndGlyphs">8</text>
<text x="703.6" y="734.6" font-size="14.80" fill="#b2b5be" textLength="14.8" lengthAdjust="spacingAndGlyphs">15</text>
<text x="804.6" y="734.6" font-size="14.80" fill="#b2b5be" textLength="14.8" lengthAdjust="spacingAndGlyphs">22</text>
<text x="942.9" y="734.6" font-size="14.80" fill="#b2b5be" font-weight="bold" textLength="26.2" lengthAdjust="spacingAndGlyphs">Jun</text>
<text x="1106.6" y="734.6" font-size="14.80" fill="#b2b5be" textLength="14.8" lengthAdjust="spacingAndGlyphs">12</text>
<text x="1207.6" y="734.6" font-size="14.80" fill="#b2b5be" textLength="14.8" lengthAdjust="spacingAndGlyphs">19</text>
<rect x="1350.7" y="744.5" width="3" height="14" rx="1.5" fill="#131722"/>
<g fill="none" stroke="#d1d4dc" stroke-width="1.5">
<path d="M1298.4 730l4.3-7.6h8.8l4.3 7.6-4.3 7.6h-8.8z"/>
<circle cx="1307.1" cy="730" r="2.4"/>
</g>
<g>
<circle cx="1114.4" cy="695.5" r="12.5" fill="#131722" stroke="#ab47bc" stroke-width="2"/>
<path d="M1117.3 688.6l-8.3 7.9h4.800l-3.600 6.300 8.600-8.300h-4.800z" fill="#ab47bc"/>
<g transform="translate(1171.4 695.5)">
<circle r="12.8" fill="#131722" stroke="#f23645" stroke-width="1.9"/>
<g clip-path="url(#flag)">
<rect x="-10.5" y="-10.5" width="21" height="21" fill="#ffffff"/>
<rect x="-10.5" y="-10.2" width="21" height="4.1" fill="#ef5350"/>
<rect x="-10.5" y="-2.0" width="21" height="4.1" fill="#ef5350"/>
<rect x="-10.5" y="6.2" width="21" height="4.1" fill="#ef5350"/>
<rect x="-10.5" y="-10.5" width="11.9" height="12.6" fill="#2a7de1"/>
<rect x="-7.8" y="-7.8" width="1.3" height="1.3" fill="#ffffff"/>
<rect x="-4.7" y="-7.8" width="1.3" height="1.3" fill="#ffffff"/>
<rect x="-1.6" y="-7.8" width="1.3" height="1.3" fill="#ffffff"/>
<rect x="-7.8" y="-4.7" width="1.3" height="1.3" fill="#ffffff"/>
<rect x="-4.7" y="-4.7" width="1.3" height="1.3" fill="#ffffff"/>
<rect x="-1.6" y="-4.7" width="1.3" height="1.3" fill="#ffffff"/>
<rect x="-7.8" y="-1.6" width="1.3" height="1.3" fill="#ffffff"/>
<rect x="-4.7" y="-1.6" width="1.3" height="1.3" fill="#ffffff"/>
<rect x="-1.6" y="-1.6" width="1.3" height="1.3" fill="#ffffff"/>
</g></g>
<g transform="translate(1157.1 695.5)">
<circle r="12.8" fill="#131722" stroke="#f23645" stroke-width="1.9"/>
<g clip-path="url(#flag)">
<rect x="-10.5" y="-10.5" width="21" height="21" fill="#ffffff"/>
<rect x="-10.5" y="-10.2" width="21" height="4.1" fill="#ef5350"/>
<rect x="-10.5" y="-2.0" width="21" height="4.1" fill="#ef5350"/>
<rect x="-10.5" y="6.2" width="21" height="4.1" fill="#ef5350"/>
<rect x="-10.5" y="-10.5" width="11.9" height="12.6" fill="#2a7de1"/>
<rect x="-7.8" y="-7.8" width="1.3" height="1.3" fill="#ffffff"/>
<rect x="-4.7" y="-7.8" width="1.3" height="1.3" fill="#ffffff"/>
<rect x="-1.6" y="-7.8" width="1.3" height="1.3" fill="#ffffff"/>
<rect x="-7.8" y="-4.7" width="1.3" height="1.3" fill="#ffffff"/>
<rect x="-4.7" y="-4.7" width="1.3" height="1.3" fill="#ffffff"/>
<rect x="-1.6" y="-4.7" width="1.3" height="1.3" fill="#ffffff"/>
<rect x="-7.8" y="-1.6" width="1.3" height="1.3" fill="#ffffff"/>
<rect x="-4.7" y="-1.6" width="1.3" height="1.3" fill="#ffffff"/>
<rect x="-1.6" y="-1.6" width="1.3" height="1.3" fill="#ffffff"/>
</g></g>
<g transform="translate(1142.7 695.5)">
<circle r="12.8" fill="#131722" stroke="#f23645" stroke-width="1.9"/>
<g clip-path="url(#flag)">
<rect x="-10.5" y="-10.5" width="21" height="21" fill="#ffffff"/>
<rect x="-10.5" y="-10.2" width="21" height="4.1" fill="#ef5350"/>
<rect x="-10.5" y="-2.0" width="21" height="4.1" fill="#ef5350"/>
<rect x="-10.5" y="6.2" width="21" height="4.1" fill="#ef5350"/>
<rect x="-10.5" y="-10.5" width="11.9" height="12.6" fill="#2a7de1"/>
<rect x="-7.8" y="-7.8" width="1.3" height="1.3" fill="#ffffff"/>
<rect x="-4.7" y="-7.8" width="1.3" height="1.3" fill="#ffffff"/>
<rect x="-1.6" y="-7.8" width="1.3" height="1.3" fill="#ffffff"/>
<rect x="-7.8" y="-4.7" width="1.3" height="1.3" fill="#ffffff"/>
<rect x="-4.7" y="-4.7" width="1.3" height="1.3" fill="#ffffff"/>
<rect x="-1.6" y="-4.7" width="1.3" height="1.3" fill="#ffffff"/>
<rect x="-7.8" y="-1.6" width="1.3" height="1.3" fill="#ffffff"/>
<rect x="-4.7" y="-1.6" width="1.3" height="1.3" fill="#ffffff"/>
<rect x="-1.6" y="-1.6" width="1.3" height="1.3" fill="#ffffff"/>
</g></g>
<g transform="translate(1128.4 695.5)">
<circle r="12.8" fill="#131722" stroke="#f23645" stroke-width="1.9"/>
<g clip-path="url(#flag)">
<rect x="-10.5" y="-10.5" width="21" height="21" fill="#ffffff"/>
<rect x="-10.5" y="-10.2" width="21" height="4.1" fill="#ef5350"/>
<rect x="-10.5" y="-2.0" width="21" height="4.1" fill="#ef5350"/>
<rect x="-10.5" y="6.2" width="21" height="4.1" fill="#ef5350"/>
<rect x="-10.5" y="-10.5" width="11.9" height="12.6" fill="#2a7de1"/>
<rect x="-7.8" y="-7.8" width="1.3" height="1.3" fill="#ffffff"/>
<rect x="-4.7" y="-7.8" width="1.3" height="1.3" fill="#ffffff"/>
<rect x="-1.6" y="-7.8" width="1.3" height="1.3" fill="#ffffff"/>
<rect x="-7.8" y="-4.7" width="1.3" height="1.3" fill="#ffffff"/>
<rect x="-4.7" y="-4.7" width="1.3" height="1.3" fill="#ffffff"/>
<rect x="-1.6" y="-4.7" width="1.3" height="1.3" fill="#ffffff"/>
<rect x="-7.8" y="-1.6" width="1.3" height="1.3" fill="#ffffff"/>
<rect x="-4.7" y="-1.6" width="1.3" height="1.3" fill="#ffffff"/>
<rect x="-1.6" y="-1.6" width="1.3" height="1.3" fill="#ffffff"/>
</g></g>
</g>
<rect x="8.5" y="14.5" width="438" height="29" rx="4" fill="#131722" stroke="#2962ff" stroke-width="1"/>
<circle cx="30" cy="25" r="7.2" fill="#009393"/>
<path d="M27.2 21.9h5.6l1.6 2-4.400 3.900-4.400-3.900z" fill="none" stroke="#ffffff" stroke-width="0.9"/>
<path d="M28.3 23.600h3.400M30 23.600v2.200" fill="none" stroke="#ffffff" stroke-width="0.9"/>
<circle cx="22" cy="33" r="8.6" fill="#131722"/>
<circle cx="22" cy="33" r="7.3" fill="#f7931a"/>
<text x="19.4" y="36.6" font-size="9.50" fill="#ffffff" font-weight="bold" transform="rotate(12 22 33)" style="font-family:'DejaVu Sans',sans-serif">₿</text>
<text x="42.3" y="36.4" font-size="18.90" fill="#d1d4dc" textLength="60.7" lengthAdjust="spacingAndGlyphs" stroke="#d1d4dc" stroke-width="0.30">Bitcoin</text>
<text x="111.6" y="36.4" font-size="18.90" fill="#d1d4dc" textLength="5.6" lengthAdjust="spacingAndGlyphs" stroke="#d1d4dc" stroke-width="0.30">/</text>
<text x="128.2" y="36.4" font-size="18.90" fill="#d1d4dc" textLength="77.6" lengthAdjust="spacingAndGlyphs" stroke="#d1d4dc" stroke-width="0.30">TetherUS</text>
<text x="213.6" y="37.2" font-size="23.00" fill="#d1d4dc" font-weight="bold" text-anchor="middle">·</text>
<text x="222.8" y="36.4" font-size="18.90" fill="#d1d4dc" textLength="20.1" lengthAdjust="spacingAndGlyphs" stroke="#d1d4dc" stroke-width="0.30">1D</text>
<text x="251.4" y="37.2" font-size="23.00" fill="#d1d4dc" font-weight="bold" text-anchor="middle">·</text>
<text x="260.1" y="36.4" font-size="18.90" fill="#d1d4dc" textLength="75.2" lengthAdjust="spacingAndGlyphs" stroke="#d1d4dc" stroke-width="0.30">BINANCE</text>
<path d="M351 22.5h15.3l-4.2 7.1 4.2 7.1H351z" fill="#50535e"/>
<g fill="none" stroke="#d1d4dc" stroke-width="1.4">
<path d="M383.3 29.2c2.2-4.6 5.6-7 9.7-7s7.5 2.400 9.700 7c-2.200 4.600-5.600 7-9.700 7s-7.500-2.400-9.700-7z"/>
<circle cx="393" cy="29.2" r="3.1"/>
<circle cx="420.3" cy="29.3" r="2.1"/><circle cx="428" cy="29.3" r="2.1"/><circle cx="435.7" cy="29.3" r="2.1"/>
</g>
<clipPath id="ohlc"><rect x="447.5" y="14" width="500" height="32"/></clipPath>
<g clip-path="url(#ohlc)">
<text x="396.5" y="37.9" font-size="16.20" fill="#d1d4dc" textLength="9.0" lengthAdjust="spacingAndGlyphs" stroke="#d1d4dc" stroke-width="0.25">O</text>
<text x="408.7" y="37.9" font-size="16.20" fill="#ef5350" textLength="65.3" lengthAdjust="spacingAndGlyphs" stroke="#ef5350" stroke-width="0.25">25925.54</text>
</g>
<text x="483.2" y="37.9" font-size="16.20" fill="#d1d4dc" textLength="9.1" lengthAdjust="spacingAndGlyphs" stroke="#d1d4dc" stroke-width="0.25">H</text>
<text x="495.3" y="37.9" font-size="16.20" fill="#ef5350" textLength="64.0" lengthAdjust="spacingAndGlyphs" stroke="#ef5350" stroke-width="0.25">26106.48</text>
<text x="568.4" y="37.9" font-size="16.20" fill="#d1d4dc" textLength="7.0" lengthAdjust="spacingAndGlyphs" stroke="#d1d4dc" stroke-width="0.25">L</text>
<text x="577.4" y="37.9" font-size="16.20" fill="#ef5350" textLength="63.2" lengthAdjust="spacingAndGlyphs" stroke="#ef5350" stroke-width="0.25">25602.11</text>
<text x="650.3" y="37.9" font-size="16.20" fill="#d1d4dc" textLength="9.0" lengthAdjust="spacingAndGlyphs" stroke="#d1d4dc" stroke-width="0.25">C</text>
<text x="661.2" y="37.9" font-size="16.20" fill="#ef5350" textLength="64.7" lengthAdjust="spacingAndGlyphs" stroke="#ef5350" stroke-width="0.25">25829.64</text>
<text x="734.6" y="37.9" font-size="16.20" fill="#ef5350" textLength="47.1" lengthAdjust="spacingAndGlyphs" stroke="#ef5350" stroke-width="0.25">−95.91</text>
<text x="789.6" y="37.9" font-size="16.20" fill="#ef5350" textLength="59.0" lengthAdjust="spacingAndGlyphs" stroke="#ef5350" stroke-width="0.25">(−0.37%)</text>
<rect x="13.5" y="49.5" width="84" height="29" rx="4" fill="#131722" stroke="#f23645"/>
<text x="23.2" y="69.7" font-size="15.50" fill="#f23645" textLength="65.0" lengthAdjust="spacingAndGlyphs" stroke="#f23645" stroke-width="0.30">25833.00</text>
<text x="108.5" y="69.6" font-size="15.00" fill="#d1d4dc" textLength="24.5" lengthAdjust="spacingAndGlyphs" stroke="#d1d4dc" stroke-width="0.40">0.01</text>
<rect x="145.5" y="49.5" width="84" height="29" rx="4" fill="#131722" stroke="#2962ff"/>
<text x="155.0" y="69.7" font-size="15.50" fill="#2962ff" textLength="63.0" lengthAdjust="spacingAndGlyphs" stroke="#2962ff" stroke-width="0.30">25833.01</text>
<rect x="14.5" y="87.5" width="39" height="24" rx="3" fill="#171b26" stroke="#363a45"/>
<path d="M22.8 97.600l4.700 4.400 4.700-4.400" fill="none" stroke="#d1d4dc" stroke-width="1.5"/>
<text x="39.4" y="104.0" font-size="15.00" fill="#d1d4dc" textLength="7.8" lengthAdjust="spacingAndGlyphs" stroke="#d1d4dc" stroke-width="0.30">9</text>
<g stroke="#131722" stroke-width="3" stroke-linejoin="round" fill="#131722" opacity="0.82">
<path d="M17.3 676.2h15.500v17.900h-7.300v-11.400h-8.200z"/>
<circle cx="39.3" cy="679.3" r="3.000"/>
<path d="M45.8 676.2h9l-5.700 17.900h-9z"/>
<text x="65.3" y="694.1" font-size="25.2" textLength="148.9" lengthAdjust="spacingAndGlyphs" stroke-width="3.9">TradingView</text>
</g>
<g fill="#d1d4dc">
<path d="M17.3 676.2h15.500v17.900h-7.300v-11.400h-8.200z"/>
<circle cx="39.3" cy="679.3" r="3.000"/>
<path d="M45.8 676.2h9l-5.700 17.900h-9z"/>
<text x="65.3" y="694.1" font-size="25.2" textLength="148.9" lengthAdjust="spacingAndGlyphs" stroke="#d1d4dc" stroke-width="0.9" stroke-linejoin="round">TradingView</text>
</g>
</svg>
</body></html>
